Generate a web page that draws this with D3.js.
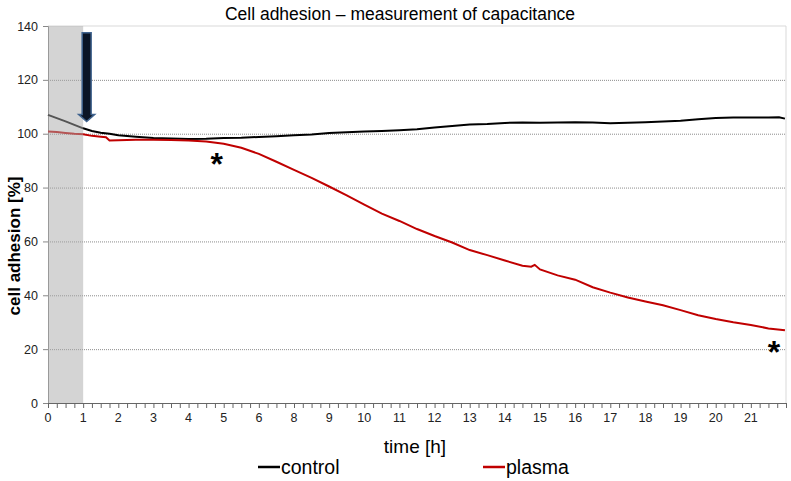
<!DOCTYPE html>
<html>
<head>
<meta charset="utf-8">
<script src="https://cdn.jsdelivr.net/npm/d3@7/dist/d3.min.js"></script>
<style>
  html, body { margin: 0; padding: 0; background: #fff; }
  svg { display: block; font-family: "Liberation Sans", Arial, sans-serif; }
</style>
</head>
<body>
<svg id="chart" width="791" height="481"></svg>
<script>
// ---- data (x in axis-position units; tick labels skip "7" as in the original) ----
const tickLabels = ["0","1","2","3","4","5","6","8","9","10","11","12","13","14","15","16","17","18","19","20","21"];

const controlTime = [0,0.25,0.5,0.75,1,1.25,1.5,1.75,2,2.5,3,3.5,4,4.5,5,5.5,6,6.5,7,7.5,8,8.5,9,9.5,10,10.5,11,11.5,12,12.5,13,13.5,14,14.5,15,15.5,16,16.5,17,17.5,18,18.5,19,19.5,20,20.5,20.8,20.97];
const controlValues = [107.0,105.8,104.6,103.3,102.0,101.0,100.4,100.0,99.4,98.9,98.4,98.2,98.0,98.1,98.4,98.5,98.8,99.1,99.4,99.7,100.3,100.5,100.8,101.0,101.3,101.7,102.3,102.9,103.4,103.6,104.0,104.2,104.1,104.2,104.3,104.2,103.9,104.1,104.3,104.5,104.8,105.4,105.8,106.0,106.0,106.0,106.1,105.6];

const plasmaTime = [0,0.25,0.5,0.75,1,1.25,1.5,1.65,1.75,2,2.5,3,3.5,4,4.5,5,5.5,6,6.5,7,7.5,8,8.5,9,9.5,10,10.5,11,11.5,12,12.5,13,13.5,13.75,13.85,14,14.5,15,15.5,16,16.5,17,17.5,18,18.5,19,19.5,20,20.5,20.97];
const plasmaValues = [100.8,100.6,100.3,100.0,99.8,99.2,98.9,98.7,97.5,97.6,97.8,97.8,97.7,97.5,97.1,96.3,94.8,92.5,89.6,86.6,83.6,80.4,77.1,73.7,70.3,67.6,64.6,62.0,59.6,56.8,54.9,52.9,51.0,50.6,51.3,49.6,47.4,45.8,43.0,41.0,39.2,37.7,36.3,34.5,32.6,31.2,30.0,29.0,27.7,27.0];

const yTicks = [0,20,40,60,80,100,120,140];
const shadedRange = [0, 1];
const arrowX = 1.1, arrowFrom = 137.5, arrowTo = 104.5;
const asterisks = [{t: 4.8, v: 91.3}, {t: 20.66, v: 21.5}];

const seriesNames = ["control", "plasma"];
const seriesColors = ["#000000", "#c00000"];

// ---- layout ----
const svg = d3.select("#chart");
const x = d3.scaleLinear().domain([0, 21]).range([48, 786]);
const y = d3.scaleLinear().domain([0, 140]).range([403, 26]);

// title
svg.append("text").attr("x", 400).attr("y", 20).attr("text-anchor", "middle")
  .attr("font-size", 17.5).attr("fill", "#000")
  .text("Cell adhesion \u2013 measurement of capacitance");

// plot frame (top & right, light)
svg.append("line").attr("x1", x(0)).attr("x2", x(21)).attr("y1", y(140)).attr("y2", y(140))
  .attr("stroke", "#d9d9d9").attr("stroke-width", 1);
svg.append("line").attr("x1", x(21)).attr("x2", x(21)).attr("y1", y(140)).attr("y2", y(0))
  .attr("stroke", "#d9d9d9").attr("stroke-width", 1);

// gridlines
svg.append("g").selectAll("line").data(yTicks.filter(d => d > 0 && d < 140)).join("line")
  .attr("x1", x(0)).attr("x2", x(21))
  .attr("y1", d => y(d) + 0.5).attr("y2", d => y(d) + 0.5)
  .attr("stroke", "#8c8c8c").attr("stroke-width", 1).attr("stroke-dasharray", "1,1");

// y axis
const yAxis = d3.axisLeft(y).tickValues(yTicks).tickSize(5).tickPadding(5);
const gy = svg.append("g").attr("transform", `translate(${x(0)},0)`).call(yAxis);
gy.select(".domain").attr("stroke", "#888");
gy.selectAll(".tick line").attr("stroke", "#888");
gy.selectAll(".tick text").attr("font-size", 12.5).attr("fill", "#222")
  .attr("font-family", "Liberation Sans, Arial, sans-serif");

// x axis: labels at integer positions, minor ticks every 0.25
const gx = svg.append("g").attr("transform", `translate(0,${y(0)})`);
gx.append("line").attr("x1", x(0)).attr("x2", x(21)).attr("y1", 0.5).attr("y2", 0.5)
  .attr("stroke", "#666");
gx.selectAll("line.minor").data(d3.range(0, 84 + 1).map(i => i * 0.25)).join("line")
  .attr("class", "minor")
  .attr("x1", d => x(d) + 0.5).attr("x2", d => x(d) + 0.5)
  .attr("y1", 0).attr("y2", 5).attr("stroke", "#666");
gx.selectAll("text").data(tickLabels).join("text")
  .attr("x", (d, i) => x(i)).attr("y", 19)
  .attr("text-anchor", "middle").attr("font-size", 12.5).attr("fill", "#222")
  .text(d => d);

// axis titles
svg.append("text").attr("x", 415).attr("y", 453).attr("text-anchor", "middle")
  .attr("font-size", 19).attr("fill", "#000").text("time [h]");
svg.append("text").attr("transform", "translate(20,246) rotate(-90)")
  .attr("text-anchor", "middle").attr("font-size", 17).attr("font-weight", "bold")
  .attr("fill", "#000").text("cell adhesion  [%]");

// lines
const line = d3.line().x(d => x(d[0])).y(d => y(d[1])).curve(d3.curveLinear);
const controlData = controlTime.map((t, i) => [t, controlValues[i]]);
const plasmaData = plasmaTime.map((t, i) => [t, plasmaValues[i]]);
svg.append("path").datum(controlData).attr("d", line)
  .attr("fill", "none").attr("stroke", seriesColors[0]).attr("stroke-width", 2);
svg.append("path").datum(plasmaData).attr("d", line)
  .attr("fill", "none").attr("stroke", seriesColors[1]).attr("stroke-width", 2);

// shaded band (overlay)
svg.append("rect").attr("x", x(shadedRange[0])).attr("y", y(140))
  .attr("width", x(shadedRange[1]) - x(shadedRange[0])).attr("height", y(0) - y(140))
  .attr("fill", "#a9a9a9").attr("opacity", 0.5);

// arrow
const ax = x(arrowX), ay0 = y(arrowFrom), ay1 = y(arrowTo);
const sw = 4.5, hw = 8, hl = 7;
svg.append("path")
  .attr("d", `M${ax - sw},${ay0} L${ax + sw},${ay0} L${ax + sw},${ay1 - hl} L${ax + hw},${ay1 - hl} L${ax},${ay1} L${ax - hw},${ay1 - hl} L${ax - sw},${ay1 - hl} Z`)
  .attr("fill", "#0b1526").attr("stroke", "#41648f").attr("stroke-width", 1.5);

// asterisks
const astSize = 32;
svg.append("g").selectAll("text").data(asterisks).join("text")
  .attr("x", d => x(d.t)).attr("y", d => y(d.v) + astSize * 0.55)
  .attr("text-anchor", "middle").attr("font-size", astSize).attr("font-weight", "bold")
  .attr("fill", "#000").text("*");

// legend
const legendX = [258, 483];
const lg = svg.append("g").selectAll("g").data(seriesNames).join("g")
  .attr("transform", (d, i) => `translate(${legendX[i]},467)`);
lg.append("line").attr("x1", 0).attr("x2", 22).attr("y1", 0).attr("y2", 0)
  .attr("stroke", (d, i) => seriesColors[i]).attr("stroke-width", 2.5);
lg.append("text").attr("x", 23).attr("y", 6.5).attr("font-size", 19.5).attr("fill", "#000")
  .text(d => d);
</script>
</body>
</html>
